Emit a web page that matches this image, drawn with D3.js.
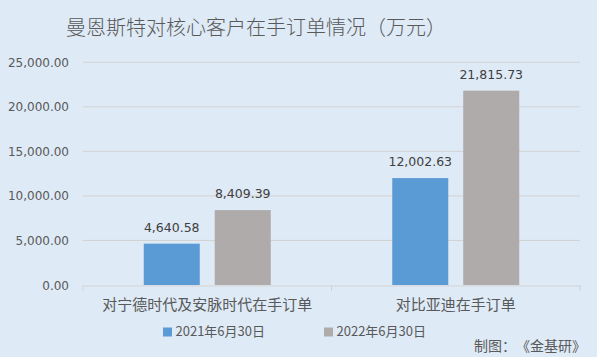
<!DOCTYPE html>
<html><head><meta charset="utf-8">
<script src="https://cdn.jsdelivr.net/npm/d3@7"></script>
<style>body{margin:0;background:#DEEAF6;} svg{display:block;} text{text-spacing-trim:space-all;}</style>
</head><body>
<script>
const categories = ["对宁德时代及安脉时代在手订单", "对比亚迪在手订单"];
const seriesNames = ["2021年6月30日", "2022年6月30日"];
const values2021 = [4640.58, 12002.63];
const values2022 = [8409.39, 21815.73];
const yTicks = [0, 5000, 10000, 15000, 20000, 25000];
const colors = ["#5B9BD5", "#AFABAB"];

const W = 597, H = 357;
const svg = d3.select("body").append("svg").attr("width", W).attr("height", H);
svg.append("rect").attr("width", W).attr("height", H).attr("fill", "#DEEAF6");

const cjk = "'Noto Sans CJK SC', 'Noto Sans', sans-serif";
const num = "'DejaVu Sans', sans-serif";

const x0 = d3.scaleBand().domain(categories).range([83, 580]);
const y = d3.scaleLinear().domain([0, 25000]).range([285, 62.3]);
const x1 = d3.scaleBand().domain(seriesNames).range([0, 127]).paddingInner(0.211);

// gridlines
svg.append("g").selectAll("line").data(yTicks.filter(d => d > 0)).join("line")
  .attr("x1", 83).attr("x2", 580).attr("y1", d => y(d)).attr("y2", d => y(d))
  .attr("stroke", "#D3D3D3").attr("stroke-width", 1);

// y tick labels
svg.append("g").selectAll("text").data(yTicks).join("text")
  .attr("x", 69).attr("y", d => y(d) + 4.5).attr("text-anchor", "end")
  .attr("font-family", num).attr("font-size", 12).attr("fill", "#595959")
  .text(d => d3.format(",.2f")(d));

// x axis
const xAxis = svg.append("g").attr("transform", "translate(0,285.5)")
  .call(d3.axisBottom(x0).tickSize(5).tickSizeOuter(0).tickFormat(""));
xAxis.select(".domain").attr("stroke", "#D3D3D3");
xAxis.selectAll(".tick").remove();
const bounds = [x0.range()[0], x0(categories[1]), x0.range()[1]];
svg.append("g").selectAll("line").data(bounds).join("line")
  .attr("x1", d => d).attr("x2", d => d).attr("y1", 285).attr("y2", 291)
  .attr("stroke", "#D3D3D3");

// bars
const data = categories.map((c, i) => ({c, vals: [values2021[i], values2022[i]]}));
const groupOffset = (x0.bandwidth() - 127) / 2;
const g = svg.append("g").selectAll("g").data(data).join("g")
  .attr("transform", d => `translate(${x0(d.c) + groupOffset},0)`);
g.selectAll("rect").data(d => d.vals.map((v, j) => ({v, s: seriesNames[j], j}))).join("rect")
  .attr("x", d => x1(d.s)).attr("width", x1.bandwidth())
  .attr("y", d => y(d.v)).attr("height", d => y(0) - y(d.v))
  .attr("fill", d => colors[d.j]);
g.selectAll("text").data(d => d.vals.map((v, j) => ({v, s: seriesNames[j], j}))).join("text")
  .attr("x", d => x1(d.s) + x1.bandwidth() / 2).attr("y", d => y(d.v) - 12)
  .attr("text-anchor", "middle").attr("font-family", num).attr("font-size", 12.5)
  .attr("fill", "#404040").text(d => d3.format(",.2f")(d.v));

// category labels
svg.append("g").selectAll("text").data(categories).join("text")
  .attr("x", d => x0(d) + x0.bandwidth() / 2).attr("y", 310)
  .attr("text-anchor", "middle").attr("font-family", cjk).attr("font-size", 15)
  .attr("fill", "#595959").text(d => d);

// title
svg.append("text").attr("x", 256).attr("y", 35).attr("text-anchor", "middle")
  .attr("font-family", cjk).attr("font-size", 20).attr("font-weight", 300).attr("fill", "#595959")
  .text("曼恩斯特对核心客户在手订单情况（万元）");

// legend
const legX = [163, 324];
const lg = svg.append("g").selectAll("g").data(seriesNames).join("g")
  .attr("transform", (d, i) => `translate(${legX[i]},0)`);
lg.append("rect").attr("x", 0).attr("y", 327.5).attr("width", 9).attr("height", 9)
  .attr("fill", (d, i) => colors[i]);
lg.append("text").attr("x", 12.5).attr("y", 336).attr("font-family", cjk)
  .attr("font-size", 13).attr("fill", "#595959").text(d => d);

// source
svg.append("text").attr("x", 586).attr("y", 351).attr("text-anchor", "end")
  .attr("font-family", cjk).attr("font-size", 14).attr("fill", "#595959")
  .text("制图：《金基研》");
</script>
</body></html>
